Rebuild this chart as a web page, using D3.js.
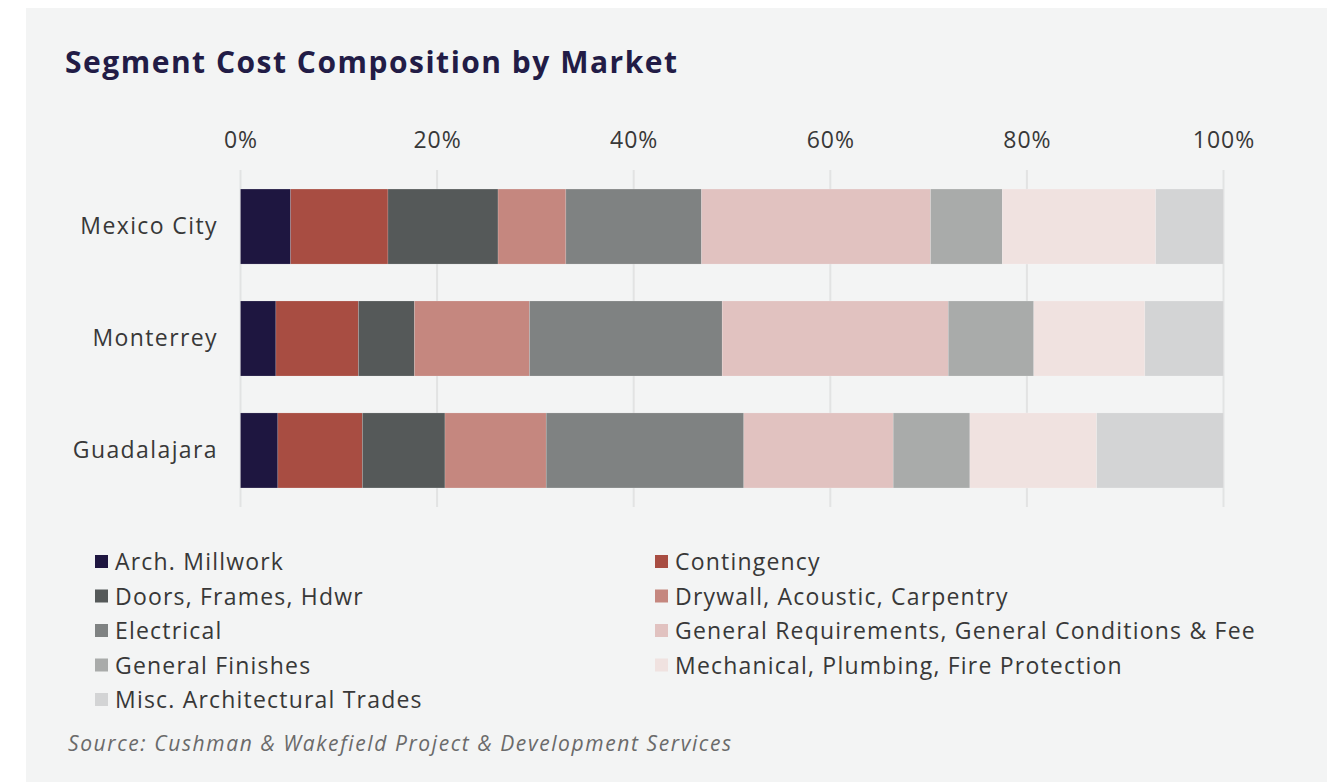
<!DOCTYPE html>
<html>
<head>
<meta charset="utf-8">
<script src="https://cdn.jsdelivr.net/npm/d3@7"></script>
<style>
  body { margin: 0; background: #fff; }
  svg { display: block; }
  text { font-family: "Open Sans", "Noto Sans", sans-serif; }
</style>
</head>
<body>
<svg id="chart" width="1341" height="782"></svg>
<script>
// market names (rows)
const markets = ["Mexico City", "Monterrey", "Guadalajara"];

// cost segments, in stacking order
const segments = [
  "Arch. Millwork",
  "Contingency",
  "Doors, Frames, Hdwr",
  "Drywall, Acoustic, Carpentry",
  "Electrical",
  "General Requirements, General Conditions & Fee",
  "General Finishes",
  "Mechanical, Plumbing, Fire Protection",
  "Misc. Architectural Trades"
];

const segmentColors = ["#1e1640", "#a84d42", "#555959", "#c5877f", "#7f8282",
                       "#e1c2c0", "#a9abaa", "#f0e2e0", "#d3d4d5"];

// share of cost (%) per segment, one array per market
const mexicoCity  = [5.1, 9.9, 11.2, 6.9, 13.8, 23.3, 7.3, 15.6, 6.9];
const monterrey   = [3.6, 8.4, 5.7, 11.7, 19.6, 23.0, 8.7, 11.3, 8.0];
const guadalajara = [3.8, 8.6, 8.4, 10.3, 20.1, 15.2, 7.8, 12.9, 12.9];

const xTicks = [0, 20, 40, 60, 80, 100];

const seriesByMarket = [mexicoCity, monterrey, guadalajara];

const svg = d3.select("#chart");

// panel background
svg.append("rect")
   .attr("x", 26).attr("y", 8)
   .attr("width", 1301).attr("height", 774)
   .attr("fill", "#f3f4f4");

svg.append("text")
   .attr("x", 65).attr("y", 73)
   .attr("fill", "#221c46")
   .attr("font-size", 30)
   .attr("font-weight", 700)
   .attr("letter-spacing", 1.5)
   .text("Segment Cost Composition by Market");

const x = d3.scaleLinear().domain([0, 100]).range([240.5, 1223.5]);
const y = d3.scaleBand().domain(markets).range([170, 507]).paddingInner(0.33).paddingOuter(0.17);

// gridlines
svg.append("g")
   .selectAll("line")
   .data(xTicks)
   .enter().append("line")
   .attr("x1", d => x(d)).attr("x2", d => x(d))
   .attr("y1", 170).attr("y2", 507)
   .attr("stroke", "#e2e3e3")
   .attr("stroke-width", 2);

// top axis labels
const xAxis = svg.append("g")
   .attr("transform", "translate(0,148)")
   .call(d3.axisTop(x).tickValues(xTicks).tickFormat(d => d + "%").tickSize(0).tickPadding(0));
xAxis.select(".domain").remove();
xAxis.selectAll("text")
   .attr("font-size", 23)
   .attr("letter-spacing", 1)
   .attr("fill", "#383838")
   .style("font-family", "'Open Sans', sans-serif");

// category labels
const yAxis = svg.append("g")
   .attr("transform", "translate(218,0)")
   .call(d3.axisLeft(y).tickSize(0).tickPadding(0));
yAxis.select(".domain").remove();
yAxis.selectAll("text")
   .attr("font-size", 23)
   .attr("letter-spacing", 1.4)
   .attr("fill", "#383838")
   .style("font-family", "'Open Sans', sans-serif");

// stacked data
const rows = markets.map((m, i) => {
  const r = { market: m };
  segments.forEach((s, j) => r[s] = seriesByMarket[i][j]);
  return r;
});
const stacked = d3.stack().keys(segments)(rows);

svg.append("g")
   .selectAll("g")
   .data(stacked)
   .enter().append("g")
   .attr("fill", (d, i) => segmentColors[i])
   .selectAll("rect")
   .data(d => d)
   .enter().append("rect")
   .attr("x", d => x(d[0]))
   .attr("y", d => y(d.data.market))
   .attr("width", d => x(d[1]) - x(d[0]))
   .attr("height", y.bandwidth())
   .attr("stroke", "rgba(255,255,255,0.25)")
   .attr("stroke-width", 0.6);

// legend, two columns
const legend = svg.append("g")
   .selectAll("g")
   .data(segments)
   .enter().append("g")
   .attr("transform", (d, i) => {
     const col = i % 2, row = Math.floor(i / 2);
     return `translate(${col === 0 ? 95 : 655},${562 + row * 34.5})`;
   });

legend.append("rect")
   .attr("x", 0).attr("y", -7)
   .attr("width", 13).attr("height", 13)
   .attr("fill", (d, i) => segmentColors[i]);

legend.append("text")
   .attr("x", 20).attr("y", 0)
   .attr("dy", "0.35em")
   .attr("font-size", 23)
   .attr("letter-spacing", 1.2)
   .attr("fill", "#383838")
   .text(d => d);

svg.append("text")
   .attr("x", 68).attr("y", 751)
   .attr("font-size", 21)
   .attr("font-style", "italic")
   .attr("letter-spacing", 1.6)
   .attr("fill", "#6a6a6a")
   .text("Source: Cushman & Wakefield Project & Development Services");
</script>
</body>
</html>
